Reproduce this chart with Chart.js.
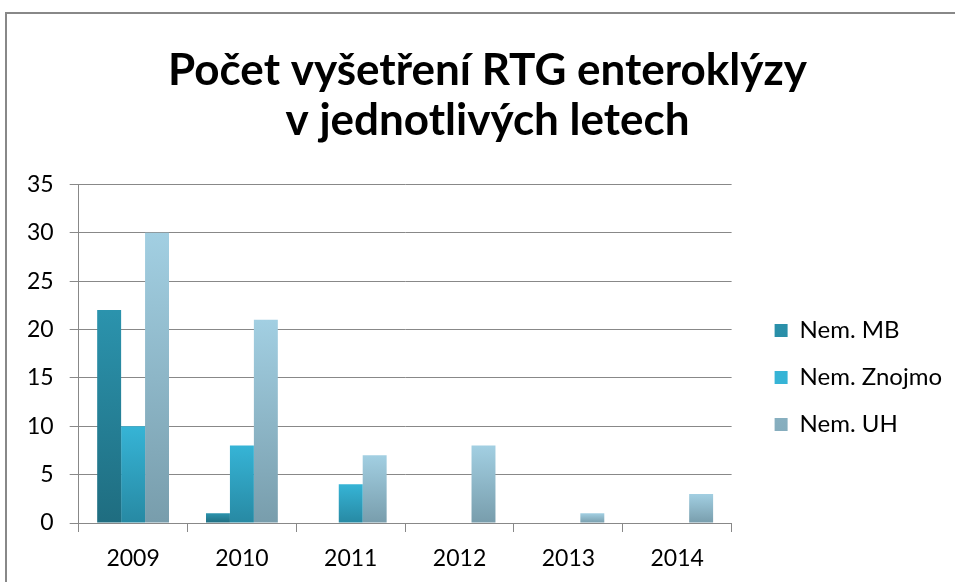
<!DOCTYPE html>
<html>
<head>
<meta charset="utf-8">
<script src="https://cdn.jsdelivr.net/npm/chart.js@4"></script>
<style>
  html, body { margin: 0; padding: 0; background: #fff; }
  #wrap { width: 955px; height: 582px; position: relative; }
</style>
</head>
<body>
<div id="wrap"><canvas id="myChart" width="955" height="582"></canvas></div>
<script>
const years = ["2009", "2010", "2011", "2012", "2013", "2014"];
const nemMB = [22, 1, 0, 0, 0, 0];
const nemZnojmo = [10, 8, 4, 0, 0, 0];
const nemUH = [30, 21, 7, 8, 1, 3];
const seriesNames = ["Nem. MB", "Nem. Znojmo", "Nem. UH"];
const yTicks = [0, 5, 10, 15, 20, 25, 30, 35];

// top / bottom colours of each bar gradient
const shades = [
  ["#2b93ad", "#1f6d80"],
  ["#36b4d6", "#2789a3"],
  ["#a2cfe2", "#789dac"],
];

function barFill(i) {
  return function (context) {
    const chart = context.chart;
    if (context.type !== "data" || !chart.chartArea) return shades[i][1];
    const y = chart.scales.y;
    const top = y.getPixelForValue(context.parsed.y);
    const bottom = y.getPixelForValue(0);
    if (!isFinite(top) || top === bottom) return shades[i][1];
    const g = chart.ctx.createLinearGradient(0, top, 0, bottom);
    g.addColorStop(0, shades[i][0]);
    g.addColorStop(1, shades[i][1]);
    return g;
  };
}

const frame = {
  id: "frame",
  afterLayout(chart) {
    // nudge the legend and title a bit, like the original
    const l = chart.legend;
    l.top += 88; l.bottom += 88;
    l.left += 20; l.right += 20;
    const t = chart.titleBlock;
    t.left += 16; t.right += 16;
  },
  afterDraw(chart) {
    const c = chart.ctx;
    c.save();
    c.strokeStyle = "#888888";
    c.lineWidth = 2;
    c.beginPath();
    c.moveTo(6, 582);
    c.lineTo(6, 13);
    c.lineTo(955, 13);
    c.stroke();
    c.restore();
  }
};

const ctx = document.getElementById("myChart");

new Chart(ctx, {
  type: "bar",
  data: {
    labels: years,
    datasets: [
      { label: seriesNames[0], data: nemMB, backgroundColor: barFill(0) },
      { label: seriesNames[1], data: nemZnojmo, backgroundColor: barFill(1) },
      { label: seriesNames[2], data: nemUH, backgroundColor: barFill(2) },
    ],
  },
  options: {
    responsive: false,
    animation: false,
    datasets: {
      bar: { categoryPercentage: 0.66, barPercentage: 1.0, borderWidth: 0 },
    },
    layout: { padding: { left: 11, right: 23, bottom: 3 } },
    plugins: {
      title: {
        display: true,
        text: ["Počet vyšetření RTG enteroklýzy", "v jednotlivých letech"],
        color: "#000",
        font: { family: "Lato", size: 44, weight: "bold", lineHeight: 1.14 },
        padding: { top: 46, bottom: 38 },
      },
      legend: {
        position: "right",
        labels: {
          color: "#000",
          font: { family: "Lato", size: 24 },
          boxWidth: 13,
          boxHeight: 13,
          padding: 23,
        },
      },
      tooltip: { enabled: false },
    },
    scales: {
      x: {
        afterFit(axis) { axis.height = 56; },
        grid: { display: true, drawOnChartArea: false, offset: true, tickLength: 9, color: "#888888" },
        border: { display: true, color: "#888888" },
        ticks: { color: "#000", font: { family: "Lato", size: 23 }, padding: 13 },
      },
      y: {
        min: 0,
        max: 35,
        afterBuildTicks(axis) { axis.ticks = yTicks.map(v => ({ value: v })); },
        grid: { color: "#888888", tickLength: 9 },
        border: { display: true, color: "#888888" },
        ticks: { color: "#000", font: { family: "Lato", size: 23 }, padding: 16 },
      },
    },
  },
  plugins: [frame],
});
</script>
</body>
</html>
